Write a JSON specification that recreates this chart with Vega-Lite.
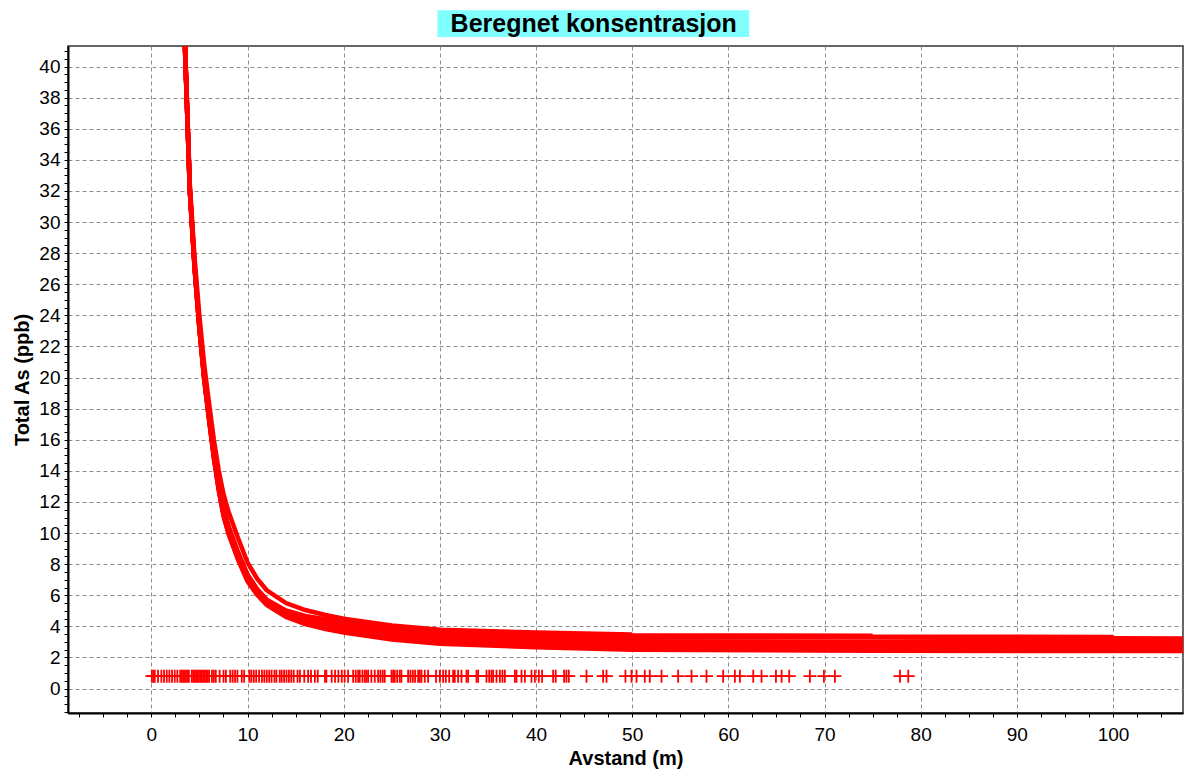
{
  "$schema": "https://vega.github.io/schema/vega-lite/v6.json",
  "width": 1115,
  "height": 667,
  "autosize": "none",
  "padding": {"left": 68, "top": 46, "right": 18, "bottom": 59},
  "background": "white",
  "config": {
    "view": {"stroke": "#333333", "strokeWidth": 1.5},
    "axis": {"domainColor": "black", "domainWidth": 2, "tickColor": "black", "tickWidth": 1, "tickSize": 4, "gridColor": "#8c8c8c", "gridDash": [4, 3], "gridWidth": 1, "labelFont": "Liberation Sans", "labelFontSize": 19, "labelColor": "black", "titleFont": "Liberation Sans", "titleFontSize": 20, "titleFontWeight": "bold", "titleColor": "black"}
  },
  "datasets": {
    "curves": [
      {"c":"A","x":3,"y":51.7},{"c":"A","x":3.5,"y":41.05},{"c":"A","x":4,"y":31.95},{"c":"A","x":4.5,"y":26.95},{"c":"A","x":5,"y":23.05},{"c":"A","x":5.5,"y":19.8},{"c":"A","x":6,"y":17.25},{"c":"A","x":6.5,"y":14.8},{"c":"A","x":7,"y":12.75},{"c":"A","x":7.5,"y":11.1},{"c":"A","x":8,"y":9.98},{"c":"A","x":9,"y":8.3},{"c":"A","x":10,"y":6.9},{"c":"A","x":11,"y":6.03},{"c":"A","x":12,"y":5.38},{"c":"A","x":14,"y":4.6},{"c":"A","x":16,"y":4.15},{"c":"A","x":18,"y":3.85},{"c":"A","x":20,"y":3.6},{"c":"A","x":25,"y":3.15},{"c":"A","x":30,"y":2.88},{"c":"A","x":40,"y":2.66},{"c":"A","x":50,"y":2.5},{"c":"A","x":75,"y":2.43},{"c":"A","x":100,"y":2.41},{"c":"A","x":110,"y":2.41},
      {"c":"I","x":3,"y":51.73},{"c":"I","x":3.5,"y":41.08},{"c":"I","x":4,"y":31.98},{"c":"I","x":4.5,"y":26.99},{"c":"I","x":5,"y":23.1},{"c":"I","x":5.5,"y":19.85},{"c":"I","x":6,"y":17.31},{"c":"I","x":6.5,"y":14.86},{"c":"I","x":7,"y":12.82},{"c":"I","x":7.5,"y":11.17},{"c":"I","x":8,"y":10.05},{"c":"I","x":9,"y":8.37},{"c":"I","x":10,"y":6.96},{"c":"I","x":11,"y":6.08},{"c":"I","x":12,"y":5.43},{"c":"I","x":14,"y":4.66},{"c":"I","x":16,"y":4.22},{"c":"I","x":18,"y":3.93},{"c":"I","x":20,"y":3.69},{"c":"I","x":25,"y":3.24},{"c":"I","x":30,"y":2.96},{"c":"I","x":40,"y":2.77},{"c":"I","x":50,"y":2.62},{"c":"I","x":75,"y":2.56},{"c":"I","x":100,"y":2.53},{"c":"I","x":110,"y":2.52},
      {"c":"B","x":3,"y":51.76},{"c":"B","x":3.5,"y":41.1},{"c":"B","x":4,"y":32.0},{"c":"B","x":4.5,"y":27.02},{"c":"B","x":5,"y":23.14},{"c":"B","x":5.5,"y":19.9},{"c":"B","x":6,"y":17.36},{"c":"B","x":6.5,"y":14.92},{"c":"B","x":7,"y":12.88},{"c":"B","x":7.5,"y":11.24},{"c":"B","x":8,"y":10.12},{"c":"B","x":9,"y":8.44},{"c":"B","x":10,"y":7.02},{"c":"B","x":11,"y":6.13},{"c":"B","x":12,"y":5.47},{"c":"B","x":14,"y":4.71},{"c":"B","x":16,"y":4.29},{"c":"B","x":18,"y":4.01},{"c":"B","x":20,"y":3.78},{"c":"B","x":25,"y":3.33},{"c":"B","x":30,"y":3.05},{"c":"B","x":40,"y":2.88},{"c":"B","x":50,"y":2.76},{"c":"B","x":75,"y":2.7},{"c":"B","x":100,"y":2.67},{"c":"B","x":110,"y":2.66},
      {"c":"H","x":3,"y":51.79},{"c":"H","x":3.5,"y":41.13},{"c":"H","x":4,"y":32.03},{"c":"H","x":4.5,"y":27.06},{"c":"H","x":5,"y":23.19},{"c":"H","x":5.5,"y":19.95},{"c":"H","x":6,"y":17.42},{"c":"H","x":6.5,"y":14.98},{"c":"H","x":7,"y":12.95},{"c":"H","x":7.5,"y":11.31},{"c":"H","x":8,"y":10.2},{"c":"H","x":9,"y":8.51},{"c":"H","x":10,"y":7.08},{"c":"H","x":11,"y":6.19},{"c":"H","x":12,"y":5.52},{"c":"H","x":14,"y":4.78},{"c":"H","x":16,"y":4.38},{"c":"H","x":18,"y":4.12},{"c":"H","x":20,"y":3.915},{"c":"H","x":25,"y":3.465},{"c":"H","x":30,"y":3.18},{"c":"H","x":40,"y":3.03},{"c":"H","x":50,"y":2.93},{"c":"H","x":75,"y":2.88},{"c":"H","x":100,"y":2.85},{"c":"H","x":110,"y":2.84},
      {"c":"C","x":3,"y":51.82},{"c":"C","x":3.5,"y":41.15},{"c":"C","x":4,"y":32.05},{"c":"C","x":4.5,"y":27.09},{"c":"C","x":5,"y":23.23},{"c":"C","x":5.5,"y":20.0},{"c":"C","x":6,"y":17.47},{"c":"C","x":6.5,"y":15.04},{"c":"C","x":7,"y":13.01},{"c":"C","x":7.5,"y":11.38},{"c":"C","x":8,"y":10.27},{"c":"C","x":9,"y":8.58},{"c":"C","x":10,"y":7.14},{"c":"C","x":11,"y":6.24},{"c":"C","x":12,"y":5.57},{"c":"C","x":14,"y":4.83},{"c":"C","x":16,"y":4.42},{"c":"C","x":18,"y":4.17},{"c":"C","x":20,"y":3.96},{"c":"C","x":25,"y":3.51},{"c":"C","x":30,"y":3.25},{"c":"C","x":40,"y":3.12},{"c":"C","x":50,"y":3.05},{"c":"C","x":75,"y":3.0},{"c":"C","x":100,"y":2.98},{"c":"C","x":110,"y":2.97},
      {"c":"D","x":3,"y":51.85},{"c":"D","x":3.5,"y":41.18},{"c":"D","x":4,"y":32.08},{"c":"D","x":4.5,"y":27.13},{"c":"D","x":5,"y":23.28},{"c":"D","x":5.5,"y":20.05},{"c":"D","x":6,"y":17.53},{"c":"D","x":6.5,"y":15.1},{"c":"D","x":7,"y":13.08},{"c":"D","x":7.5,"y":11.45},{"c":"D","x":8,"y":10.34},{"c":"D","x":9,"y":8.65},{"c":"D","x":10,"y":7.2},{"c":"D","x":11,"y":6.29},{"c":"D","x":12,"y":5.62},{"c":"D","x":14,"y":4.9},{"c":"D","x":16,"y":4.53},{"c":"D","x":18,"y":4.31},{"c":"D","x":20,"y":4.14},{"c":"D","x":25,"y":3.69},{"c":"D","x":30,"y":3.42},{"c":"D","x":40,"y":3.33},{"c":"D","x":50,"y":3.34},{"c":"D","x":75,"y":3.34},{"c":"D","x":100,"y":3.32},
      {"c":"G","x":3,"y":51.88},{"c":"G","x":3.5,"y":41.2},{"c":"G","x":4,"y":32.1},{"c":"G","x":4.5,"y":27.16},{"c":"G","x":5,"y":23.32},{"c":"G","x":5.5,"y":20.1},{"c":"G","x":6,"y":17.58},{"c":"G","x":6.5,"y":15.16},{"c":"G","x":7,"y":13.14},{"c":"G","x":7.5,"y":11.52},{"c":"G","x":8,"y":10.41},{"c":"G","x":9,"y":8.72},{"c":"G","x":10,"y":7.26},{"c":"G","x":11,"y":6.34},{"c":"G","x":12,"y":5.66},{"c":"G","x":14,"y":4.96},{"c":"G","x":16,"y":4.6},{"c":"G","x":18,"y":4.39},{"c":"G","x":20,"y":4.23},{"c":"G","x":25,"y":3.78},{"c":"G","x":30,"y":3.52},{"c":"G","x":40,"y":3.38},{"c":"G","x":50,"y":3.32},{"c":"G","x":75,"y":3.28},{"c":"G","x":100,"y":3.24},{"c":"G","x":110,"y":3.22},
      {"c":"E","x":3,"y":51.92},{"c":"E","x":3.5,"y":41.23},{"c":"E","x":4,"y":32.13},{"c":"E","x":4.5,"y":27.2},{"c":"E","x":5,"y":23.37},{"c":"E","x":5.5,"y":20.16},{"c":"E","x":6,"y":17.65},{"c":"E","x":6.5,"y":15.23},{"c":"E","x":7,"y":13.22},{"c":"E","x":7.5,"y":11.6},{"c":"E","x":8,"y":10.5},{"c":"E","x":9,"y":8.8},{"c":"E","x":10,"y":7.33},{"c":"E","x":11,"y":6.4},{"c":"E","x":12,"y":5.72},{"c":"E","x":14,"y":5.02},{"c":"E","x":16,"y":4.67},{"c":"E","x":18,"y":4.47},{"c":"E","x":20,"y":4.32},{"c":"E","x":25,"y":3.87},{"c":"E","x":30,"y":3.62},{"c":"E","x":40,"y":3.48},{"c":"E","x":50,"y":3.42},{"c":"E","x":75,"y":3.4},
      {"c":"F","x":3,"y":52.3},{"c":"F","x":3.5,"y":41.55},{"c":"F","x":4,"y":32.45},{"c":"F","x":4.5,"y":27.65},{"c":"F","x":5,"y":23.95},{"c":"F","x":5.5,"y":20.8},{"c":"F","x":6,"y":18.35},{"c":"F","x":6.5,"y":16.0},{"c":"F","x":7,"y":14.05},{"c":"F","x":7.5,"y":12.5},{"c":"F","x":8,"y":11.42},{"c":"F","x":9,"y":9.7},{"c":"F","x":10,"y":8.1},{"c":"F","x":11,"y":7.07},{"c":"F","x":12,"y":6.32},{"c":"F","x":14,"y":5.5},{"c":"F","x":16,"y":5.05},{"c":"F","x":18,"y":4.75},{"c":"F","x":20,"y":4.5},{"c":"F","x":25,"y":4.05},{"c":"F","x":30,"y":3.78},{"c":"F","x":40,"y":3.6},{"c":"F","x":50,"y":3.48}
    ],
    "samples": [
      {"x":0.05,"y":0.8},{"x":0.2,"y":0.8},{"x":0.35,"y":0.8},{"x":0.69,"y":0.8},{"x":1.04,"y":0.8},{"x":1.32,"y":0.8},{"x":1.6,"y":0.8},{"x":1.87,"y":0.8},{"x":2.15,"y":0.8},{"x":2.43,"y":0.8},{"x":2.7,"y":0.8},{"x":3.0,"y":0.8},{"x":3.15,"y":0.8},{"x":3.3,"y":0.8},{"x":3.45,"y":0.8},{"x":3.6,"y":0.8},{"x":3.75,"y":0.8},{"x":3.9,"y":0.8},{"x":4.2,"y":0.8},{"x":4.35,"y":0.8},{"x":4.5,"y":0.8},{"x":4.65,"y":0.8},{"x":4.8,"y":0.8},{"x":4.95,"y":0.8},{"x":5.1,"y":0.8},{"x":5.25,"y":0.8},{"x":5.4,"y":0.8},{"x":5.55,"y":0.8},{"x":5.7,"y":0.8},{"x":5.85,"y":0.8},{"x":6.0,"y":0.8},{"x":6.3,"y":0.8},{"x":6.5,"y":0.8},{"x":6.7,"y":0.8},{"x":7.1,"y":0.8},{"x":7.5,"y":0.8},{"x":7.75,"y":0.8},{"x":8.2,"y":0.8},{"x":8.45,"y":0.8},{"x":8.7,"y":0.8},{"x":8.95,"y":0.8},{"x":9.4,"y":0.8},{"x":9.65,"y":0.8},{"x":10.2,"y":0.8},{"x":10.4,"y":0.8},{"x":10.65,"y":0.8},{"x":10.9,"y":0.8},{"x":11.2,"y":0.8},{"x":11.5,"y":0.8},{"x":11.75,"y":0.8},{"x":12.0,"y":0.8},{"x":12.25,"y":0.8},{"x":12.5,"y":0.8},{"x":12.8,"y":0.8},{"x":13.0,"y":0.8},{"x":13.35,"y":0.8},{"x":13.55,"y":0.8},{"x":13.8,"y":0.8},{"x":14.05,"y":0.8},{"x":14.3,"y":0.8},{"x":14.55,"y":0.8},{"x":14.8,"y":0.8},{"x":15.2,"y":0.8},{"x":15.45,"y":0.8},{"x":15.9,"y":0.8},{"x":16.3,"y":0.8},{"x":16.6,"y":0.8},{"x":17.0,"y":0.8},{"x":17.3,"y":0.8},{"x":18.05,"y":0.8},{"x":18.2,"y":0.8},{"x":18.75,"y":0.8},{"x":19.1,"y":0.8},{"x":19.45,"y":0.8},{"x":19.8,"y":0.8},{"x":20.1,"y":0.8},{"x":20.46,"y":0.8},{"x":20.98,"y":0.8},{"x":21.25,"y":0.8},{"x":21.5,"y":0.8},{"x":21.67,"y":0.8},{"x":21.95,"y":0.8},{"x":22.19,"y":0.8},{"x":22.36,"y":0.8},{"x":22.54,"y":0.8},{"x":22.88,"y":0.8},{"x":23.23,"y":0.8},{"x":23.58,"y":0.8},{"x":23.82,"y":0.8},{"x":24.06,"y":0.8},{"x":24.27,"y":0.8},{"x":24.97,"y":0.8},{"x":25.14,"y":0.8},{"x":25.31,"y":0.8},{"x":25.56,"y":0.8},{"x":25.83,"y":0.8},{"x":26.0,"y":0.8},{"x":26.7,"y":0.8},{"x":26.94,"y":0.8},{"x":27.19,"y":0.8},{"x":27.43,"y":0.8},{"x":27.74,"y":0.8},{"x":27.91,"y":0.8},{"x":28.09,"y":0.8},{"x":28.43,"y":0.8},{"x":28.78,"y":0.8},{"x":29.6,"y":0.8},{"x":30.0,"y":0.8},{"x":30.34,"y":0.8},{"x":30.62,"y":0.8},{"x":30.97,"y":0.8},{"x":31.38,"y":0.8},{"x":31.55,"y":0.8},{"x":31.9,"y":0.8},{"x":32.25,"y":0.8},{"x":32.77,"y":0.8},{"x":32.94,"y":0.8},{"x":33.81,"y":0.8},{"x":33.98,"y":0.8},{"x":34.85,"y":0.8},{"x":35.13,"y":0.8},{"x":35.37,"y":0.8},{"x":35.54,"y":0.8},{"x":35.89,"y":0.8},{"x":36.24,"y":0.8},{"x":36.51,"y":0.8},{"x":36.76,"y":0.8},{"x":37.8,"y":0.8},{"x":37.97,"y":0.8},{"x":38.49,"y":0.8},{"x":38.84,"y":0.8},{"x":39.53,"y":0.8},{"x":39.88,"y":0.8},{"x":40.29,"y":0.8},{"x":40.63,"y":0.8},{"x":41.78,"y":0.8},{"x":42.05,"y":0.8},{"x":42.92,"y":0.8},{"x":43.16,"y":0.8},{"x":43.41,"y":0.8},{"x":45.25,"y":0.8},{"x":46.98,"y":0.8},{"x":47.33,"y":0.8},{"x":49.3,"y":0.8},{"x":49.93,"y":0.8},{"x":50.45,"y":0.8},{"x":51.31,"y":0.8},{"x":51.83,"y":0.8},{"x":53.05,"y":0.8},{"x":54.78,"y":0.8},{"x":56.17,"y":0.8},{"x":57.73,"y":0.8},{"x":59.46,"y":0.8},{"x":60.68,"y":0.8},{"x":61.2,"y":0.8},{"x":62.59,"y":0.8},{"x":63.45,"y":0.8},{"x":64.95,"y":0.8},{"x":65.54,"y":0.8},{"x":66.33,"y":0.8},{"x":68.48,"y":0.8},{"x":69.94,"y":0.8},{"x":71.08,"y":0.8},{"x":77.85,"y":0.8},{"x":78.71,"y":0.8}
    ]
  },
  "layer": [
    {
      "data": {"name": "curves"},
      "mark": {"type": "line", "color": "#ff0000", "strokeWidth": 4.5, "clip": true},
      "encoding": {
        "x": {
          "field": "x", "type": "quantitative",
          "scale": {"domain": [-8.67, 107.28], "nice": false, "zero": false},
          "axis": {
            "title": "Avstand (m)",
            "tickCount": 500,
            "values": [-7.5,-5,-2.5,0,2.5,5,7.5,10,12.5,15,17.5,20,22.5,25,27.5,30,32.5,35,37.5,40,42.5,45,47.5,50,52.5,55,57.5,60,62.5,65,67.5,70,72.5,75,77.5,80,82.5,85,87.5,90,92.5,95,97.5,100,102.5,105],
            "labelExpr": "datum.value % 10 === 0 ? format(datum.value, 'd') : ''",
            "gridOpacity": {"condition": {"test": "datum.value % 10 === 0", "value": 1}, "value": 0},
            "labelPadding": 8,
            "titlePadding": 4,
            "labelOverlap": false,
            "labelFlush": false
          }
        },
        "y": {
          "field": "y", "type": "quantitative",
          "scale": {"domain": [-1.57, 41.32], "nice": false, "zero": false},
          "axis": {
            "title": "Total As (ppb)",
            "tickCount": 500,
            "values": [-1.5,-1,-0.5,0,0.5,1,1.5,2,2.5,3,3.5,4,4.5,5,5.5,6,6.5,7,7.5,8,8.5,9,9.5,10,10.5,11,11.5,12,12.5,13,13.5,14,14.5,15,15.5,16,16.5,17,17.5,18,18.5,19,19.5,20,20.5,21,21.5,22,22.5,23,23.5,24,24.5,25,25.5,26,26.5,27,27.5,28,28.5,29,29.5,30,30.5,31,31.5,32,32.5,33,33.5,34,34.5,35,35.5,36,36.5,37,37.5,38,38.5,39,39.5,40,40.5,41],
            "labelExpr": "datum.value % 2 === 0 ? format(datum.value, 'd') : ''",
            "gridOpacity": {"condition": {"test": "datum.value % 2 === 0", "value": 1}, "value": 0},
            "labelPadding": 4,
            "titlePadding": 6,
            "labelOverlap": false,
            "labelFlush": false
          }
        },
        "detail": {"field": "c", "type": "nominal"}
      }
    },
    {
      "data": {"name": "samples"},
      "mark": {"type": "point", "shape": "M-1,0H1M0,-1V1", "size": 169, "filled": false, "color": "#ff0000", "strokeWidth": 1.8, "opacity": 1},
      "encoding": {
        "x": {"field": "x", "type": "quantitative"},
        "y": {"field": "y", "type": "quantitative"}
      }
    },
    {
      "data": {"values": [{"label": "Beregnet konsentrasjon"}]},
      "layer": [
        {
          "mark": {"type": "rect", "color": "#80ffff", "clip": false},
          "encoding": {
            "x": {"datum": 29.75, "type": "quantitative"},
            "x2": {"datum": 62.17},
            "y": {"datum": 43.62, "type": "quantitative"},
            "y2": {"datum": 41.9}
          }
        },
        {
          "mark": {"type": "text", "font": "Liberation Sans", "fontSize": 25, "fontWeight": "bold", "color": "black", "align": "center", "baseline": "alphabetic", "clip": false},
          "encoding": {
            "x": {"datum": 46.0, "type": "quantitative"},
            "y": {"datum": 42.24, "type": "quantitative"},
            "text": {"field": "label", "type": "nominal"}
          }
        }
      ]
    }
  ]
}
